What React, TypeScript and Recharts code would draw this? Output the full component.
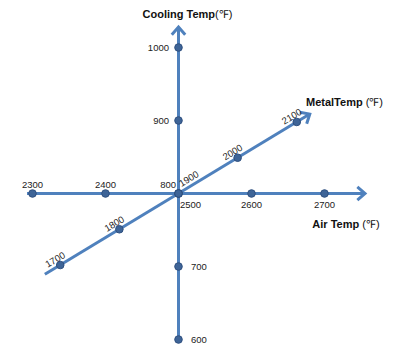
import React from "react";
import { ScatterChart, Scatter, XAxis, YAxis } from "recharts";

// axis values
const airTemps = [2300, 2400, 2500, 2600, 2700];
const coolingTemps = [600, 700, 800, 900, 1000];
const metalTemps = [1700, 1800, 1900, 2000, 2100];

const AIR_ORIGIN = 2500;
const COOL_ORIGIN = 800;
const METAL_ORIGIN = 1900;
const STEP = 100;

// direction of the metal axis (one step, in chart units)
const METAL_DIR = { x: 0.81, y: 0.49 };
// where each axis line starts / ends, in steps from the origin
const AIR_EXTENT = [-2.075, 2.555];
const COOL_EXTENT = [-1.966, 2.281];
const METAL_EXTENT = [-2.26, 2.22];

const W = 396;
const H = 364;
const PX = 73; // pixels per step
const CX = 178.5;
const CY = 193.5;

const BLUE = "#4f81bd";
const DOT = "#3e6497";
const DOT_EDGE = "#2e4f7f";
const FONT = "'Liberation Sans', Arial, sans-serif";

const airData = airTemps.map((v) => ({ x: (v - AIR_ORIGIN) / STEP, y: 0, value: v }));
const coolData = coolingTemps.map((v) => ({ x: 0, y: (v - COOL_ORIGIN) / STEP, value: v }));
const metalData = metalTemps.map((v) => {
  const m = (v - METAL_ORIGIN) / STEP;
  return { x: m * METAL_DIR.x, y: m * METAL_DIR.y, value: v };
});

const airLine = AIR_EXTENT.map((m) => ({ x: m, y: 0 }));
const coolLine = COOL_EXTENT.map((m) => ({ x: 0, y: m }));
const metalLine = METAL_EXTENT.map((m) => ({ x: m * METAL_DIR.x, y: m * METAL_DIR.y }));

function chevron(tip: { x: number; y: number }, dir: { x: number; y: number }) {
  const len = Math.hypot(dir.x, dir.y);
  const ux = dir.x / len;
  const uy = dir.y / len;
  const back = 0.105;
  const half = 0.092;
  return [
    { x: tip.x - back * ux - half * uy, y: tip.y - back * uy + half * ux },
    { x: tip.x, y: tip.y },
    { x: tip.x - back * ux + half * uy, y: tip.y - back * uy - half * ux },
  ];
}

const airArrow = chevron(airLine[1], { x: 1, y: 0 });
const coolArrow = chevron(coolLine[1], { x: 0, y: 1 });
const metalArrow = chevron(metalLine[1], METAL_DIR);

const labelStyle = { fontSize: 9.5, fontFamily: FONT, fill: "#222" };
const ANGLE = (Math.atan2(METAL_DIR.y, METAL_DIR.x) * 180) / Math.PI;

const Marker = ({ cx, cy }: any) => (
  <circle cx={cx} cy={cy} r={3.8} fill={DOT} stroke={DOT_EDGE} strokeWidth={1} />
);

const AirPoint = (props: any) => {
  const { cx, cy, payload } = props;
  const v = payload.value;
  let label;
  if (v < AIR_ORIGIN) label = <text x={cx} y={cy - 5.5} textAnchor="middle" {...labelStyle}>{v}</text>;
  else if (v === AIR_ORIGIN) label = <text x={cx + 1.5} y={cy + 14} textAnchor="start" {...labelStyle}>{v}</text>;
  else label = <text x={cx} y={cy + 14} textAnchor="middle" {...labelStyle}>{v}</text>;
  return (
    <g>
      <Marker cx={cx} cy={cy} />
      {label}
    </g>
  );
};

const CoolPoint = (props: any) => {
  const { cx, cy, payload } = props;
  const v = payload.value;
  let label;
  if (v > COOL_ORIGIN) label = <text x={cx - 9.5} y={cy + 3.5} textAnchor="end" {...labelStyle}>{v}</text>;
  else if (v === COOL_ORIGIN) label = <text x={cx - 2.5} y={cy - 5.5} textAnchor="end" {...labelStyle}>{v}</text>;
  else label = <text x={cx + 12.5} y={cy + 3} textAnchor="start" {...labelStyle}>{v}</text>;
  return (
    <g>
      <Marker cx={cx} cy={cy} />
      {label}
    </g>
  );
};

const MetalPoint = (props: any) => {
  const { cx, cy, payload } = props;
  const v = payload.value;
  const along = v === METAL_ORIGIN ? 16.5 : -1.5;
  return (
    <g>
      <Marker cx={cx} cy={cy} />
      <text
        x={along}
        y={-4}
        textAnchor="middle"
        transform={`translate(${cx},${cy}) rotate(${-ANGLE})`}
        {...labelStyle}
      >
        {v}
      </text>
    </g>
  );
};

const NoShape = () => <g />;
const lineProps = { stroke: BLUE, strokeWidth: 3 };

export default function App() {
  return (
    <div style={{ position: "relative", width: W, height: H }}>
      <style>{"body{margin:0}"}</style>
      <ScatterChart width={W} height={H} margin={{ top: 0, right: 0, bottom: 0, left: 0 }}>
        <XAxis type="number" dataKey="x" hide domain={[-CX / PX, (W - CX) / PX]} allowDataOverflow />
        <YAxis type="number" dataKey="y" hide domain={[-(H - CY) / PX, CY / PX]} allowDataOverflow />
        <Scatter data={airLine} line={lineProps} shape={NoShape} isAnimationActive={false} />
        <Scatter data={coolLine} line={lineProps} shape={NoShape} isAnimationActive={false} />
        <Scatter data={metalLine} line={lineProps} shape={NoShape} isAnimationActive={false} />
        <Scatter data={airArrow} line={lineProps} shape={NoShape} isAnimationActive={false} />
        <Scatter data={coolArrow} line={lineProps} shape={NoShape} isAnimationActive={false} />
        <Scatter data={metalArrow} line={lineProps} shape={NoShape} isAnimationActive={false} />
        <Scatter data={metalData} shape={MetalPoint} isAnimationActive={false} />
        <Scatter data={coolData} shape={CoolPoint} isAnimationActive={false} />
        <Scatter data={airData} shape={AirPoint} isAnimationActive={false} />
      </ScatterChart>
      <svg width={W} height={H} style={{ position: "absolute", left: 0, top: 0, pointerEvents: "none" }}>
        <text x={142.5} y={17.8} fontFamily={FONT} fontSize={11} fill="#111">
          <tspan fontWeight="bold">Cooling Temp</tspan>
          <tspan>(℉)</tspan>
        </text>
        <text x={306} y={106} fontFamily={FONT} fontSize={11} fill="#111">
          <tspan fontWeight="bold">MetalTemp</tspan>
          <tspan> (℉)</tspan>
        </text>
        <text x={312.3} y={227.5} fontFamily={FONT} fontSize={11} fill="#111">
          <tspan fontWeight="bold">Air Temp</tspan>
          <tspan> (℉)</tspan>
        </text>
      </svg>
    </div>
  );
}
